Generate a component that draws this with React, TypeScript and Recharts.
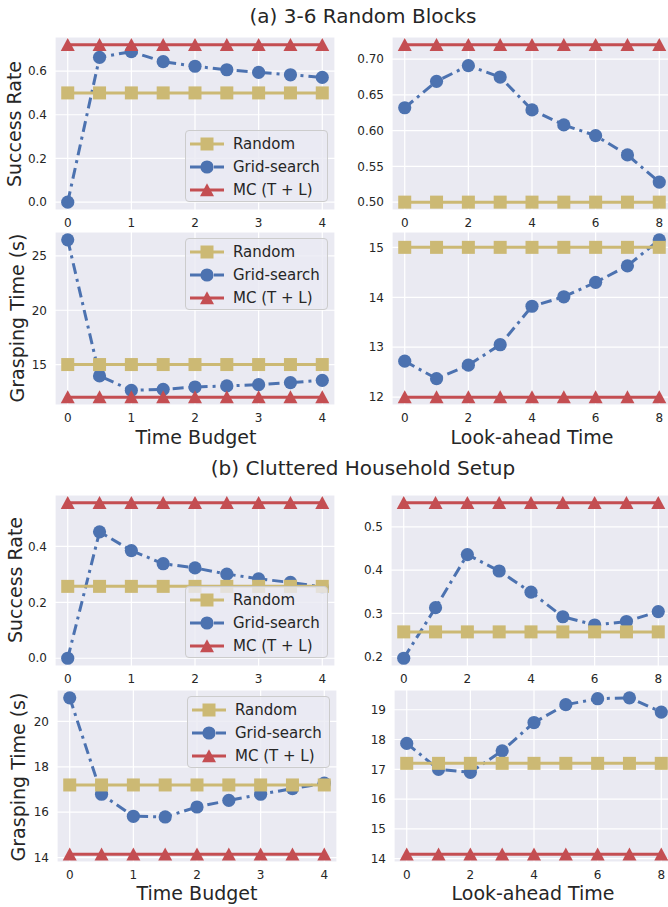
import { CartesianGrid, Line, LineChart, XAxis, YAxis } from 'recharts'

const FONT = '"DejaVu Sans", sans-serif'
const INK = '#262626'
const TAN = '#CCB974'
const BLUE = '#4C72B0'
const RED = '#C44E52'
const FACE = '#EAEAF2'

// x values
const timeBudget = [0, 0.5, 1, 1.5, 2, 2.5, 3, 3.5, 4]
const lookAhead = [0, 1, 2, 3, 4, 5, 6, 7, 8]
const budgetTicks = [0, 1, 2, 3, 4]
const lookTicks = [0, 2, 4, 6, 8]

// (a) 3-6 random blocks
const blocksRateRandom = [0.5, 0.5, 0.5, 0.5, 0.5, 0.5, 0.5, 0.5, 0.5]
const blocksRateGridBudget = [0, 0.663, 0.689, 0.643, 0.622, 0.606, 0.594, 0.583, 0.571]
const blocksRateGridLook = [0.632, 0.669, 0.691, 0.675, 0.629, 0.608, 0.593, 0.566, 0.528]
const blocksRateMc = [0.72, 0.72, 0.72, 0.72, 0.72, 0.72, 0.72, 0.72, 0.72]
const blocksTimeRandom = [15, 15, 15, 15, 15, 15, 15, 15, 15]
const blocksTimeGridBudget = [26.48, 13.95, 12.63, 12.72, 12.93, 13.03, 13.15, 13.34, 13.55]
const blocksTimeGridLook = [12.72, 12.37, 12.64, 13.05, 13.82, 14.01, 14.3, 14.63, 15.15]
const blocksTimeMc = [12, 12, 12, 12, 12, 12, 12, 12, 12]

// (b) cluttered household setup
const houseRateRandom = [0.257, 0.257, 0.257, 0.257, 0.257, 0.257, 0.257, 0.257, 0.257]
const houseRateGridBudget = [0, 0.452, 0.385, 0.338, 0.323, 0.301, 0.284, 0.271, 0.255]
const houseRateGridLook = [0.196, 0.313, 0.436, 0.398, 0.349, 0.292, 0.273, 0.281, 0.304]
const houseRateMc = [0.556, 0.556, 0.556, 0.556, 0.556, 0.556, 0.556, 0.556, 0.556]
const houseTimeRandom = [17.2, 17.2, 17.2, 17.2, 17.2, 17.2, 17.2, 17.2, 17.2]
const houseTimeGridBudget = [21.04, 16.79, 15.82, 15.79, 16.23, 16.52, 16.79, 17.04, 17.28]
const houseTimeGridLook = [17.87, 17.0, 16.9, 17.62, 18.57, 19.17, 19.37, 19.4, 18.92]
const houseTimeMc = [14.15, 14.15, 14.15, 14.15, 14.15, 14.15, 14.15, 14.15, 14.15]

const PLOT_W = 280
const Y_W = 50
const M_TOP = 10
const M_RIGHT = 6
const X_H = 30

// matplotlib-style 5% auto margins
function padded(values: number[]): [number, number] {
  const lo = Math.min(...values)
  const hi = Math.max(...values)
  const p = (hi - lo) * 0.05
  return [lo - p, hi + p]
}

const tickStyle = { fill: INK, fontSize: 12, fontFamily: FONT }

const squareDot = (p: any) => (
  <rect key={`s${p.index}`} x={p.cx - 6.5} y={p.cy - 6.5} width={13} height={13} fill={TAN} />
)
const circleDot = (p: any) => <circle key={`c${p.index}`} cx={p.cx} cy={p.cy} r={6.6} fill={BLUE} />
const triangleDot = (p: any) => (
  <polygon
    key={`t${p.index}`}
    points={`${p.cx},${p.cy - 6.8} ${p.cx - 7},${p.cy + 6.2} ${p.cx + 7},${p.cy + 6.2}`}
    fill={RED}
  />
)

type PanelProps = {
  left: number
  top: number
  height: number
  xs: number[]
  random: number[]
  grid: number[]
  mc: number[]
  xTicks: number[]
  yTicks: number[]
  digits: number
}

function Panel({ left, top, height, xs, random, grid, mc, xTicks, yTicks, digits }: PanelProps) {
  const rows = xs.map((x, i) => ({ x, random: random[i], grid: grid[i], mc: mc[i] }))
  return (
    <div style={{ position: 'absolute', left: left - Y_W, top: top - M_TOP }}>
      <LineChart
        width={PLOT_W + Y_W + M_RIGHT}
        height={height + M_TOP + X_H}
        data={rows}
        margin={{ top: M_TOP, right: M_RIGHT, bottom: 0, left: 0 }}
      >
        <CartesianGrid fill={FACE} fillOpacity={1} stroke="#ffffff" strokeWidth={1.2} />
        <XAxis
          type="number"
          dataKey="x"
          domain={padded(xs)}
          ticks={xTicks}
          interval={0}
          height={X_H}
          axisLine={false}
          tickLine={false}
          tick={tickStyle}
        />
        <YAxis
          type="number"
          domain={padded([...random, ...grid, ...mc])}
          ticks={yTicks}
          interval={0}
          width={Y_W}
          axisLine={false}
          tickLine={false}
          tick={tickStyle}
          tickFormatter={(v: number) => v.toFixed(digits)}
        />
        <Line
          type="linear"
          dataKey="grid"
          stroke={BLUE}
          strokeWidth={3}
          strokeDasharray="11 5 3 5"
          dot={circleDot}
          activeDot={false}
          isAnimationActive={false}
        />
        <Line
          type="linear"
          dataKey="random"
          stroke={TAN}
          strokeWidth={3}
          dot={squareDot}
          activeDot={false}
          isAnimationActive={false}
        />
        <Line
          type="linear"
          dataKey="mc"
          stroke={RED}
          strokeWidth={3}
          dot={triangleDot}
          activeDot={false}
          isAnimationActive={false}
        />
      </LineChart>
    </div>
  )
}

const legendItems = [
  { label: 'Random', color: TAN, shape: 'square', dash: undefined },
  { label: 'Grid-search', color: BLUE, shape: 'circle', dash: '11 5 3 5' },
  { label: 'MC (T + L)', color: RED, shape: 'triangle', dash: undefined },
]

function Legend({ left, top }: { left: number; top: number }) {
  return (
    <div
      style={{
        position: 'absolute',
        left,
        top,
        width: 143,
        height: 72,
        boxSizing: 'border-box',
        border: '1px solid #cccccc',
        borderRadius: 4,
        background: 'rgba(234,234,242,0.8)',
      }}
    >
      {legendItems.map((it, i) => (
        <div key={it.label} style={{ position: 'absolute', left: 0, top: 2 + i * 22.8, height: 22, width: 143 }}>
          <svg width={40} height={22} style={{ position: 'absolute', left: 3, top: 0 }}>
            <line x1={1} y1={11} x2={35} y2={11} stroke={it.color} strokeWidth={3} strokeDasharray={it.dash} />
            {it.shape === 'square' && <rect x={11.5} y={4.5} width={13} height={13} fill={it.color} />}
            {it.shape === 'circle' && <circle cx={18} cy={11} r={6.6} fill={it.color} />}
            {it.shape === 'triangle' && <polygon points="18,4.2 11,17.2 25,17.2" fill={it.color} />}
          </svg>
          <span
            style={{
              position: 'absolute',
              left: 47,
              top: 0,
              lineHeight: '22px',
              fontSize: 15,
              color: INK,
              whiteSpace: 'nowrap',
            }}
          >
            {it.label}
          </span>
        </div>
      ))}
    </div>
  )
}

function Text({ x, y, size, text, rotate }: { x: number; y: number; size: number; text: string; rotate?: boolean }) {
  return (
    <div
      style={{
        position: 'absolute',
        left: x,
        top: y,
        transform: `translate(-50%, -50%)${rotate ? ' rotate(-90deg)' : ''}`,
        fontSize: size,
        color: INK,
        whiteSpace: 'nowrap',
        lineHeight: 1,
      }}
    >
      {text}
    </div>
  )
}

export default function App() {
  return (
    <div
      style={{
        position: 'relative',
        width: 668,
        height: 907,
        overflow: 'hidden',
        background: '#ffffff',
        fontFamily: FONT,
      }}
    >
      <style>{'body{margin:0}'}</style>
      <Text x={363} y={16} size={20} text="(a) 3-6 Random Blocks" />
      <Text x={363} y={468} size={20} text="(b) Cluttered Household Setup" />

      <Panel left={55} top={37} height={173} xs={timeBudget} random={blocksRateRandom} grid={blocksRateGridBudget} mc={blocksRateMc} xTicks={budgetTicks} yTicks={[0, 0.2, 0.4, 0.6]} digits={1} />
      <Panel left={392} top={37} height={173} xs={lookAhead} random={blocksRateRandom} grid={blocksRateGridLook} mc={blocksRateMc} xTicks={lookTicks} yTicks={[0.5, 0.55, 0.6, 0.65, 0.7]} digits={2} />
      <Panel left={55} top={232} height={173} xs={timeBudget} random={blocksTimeRandom} grid={blocksTimeGridBudget} mc={blocksTimeMc} xTicks={budgetTicks} yTicks={[15, 20, 25]} digits={0} />
      <Panel left={392} top={232} height={173} xs={lookAhead} random={blocksTimeRandom} grid={blocksTimeGridLook} mc={blocksTimeMc} xTicks={lookTicks} yTicks={[12, 13, 14, 15]} digits={0} />

      <Panel left={55} top={495} height={171} xs={timeBudget} random={houseRateRandom} grid={houseRateGridBudget} mc={houseRateMc} xTicks={budgetTicks} yTicks={[0, 0.2, 0.4]} digits={1} />
      <Panel left={391} top={495} height={171} xs={lookAhead} random={houseRateRandom} grid={houseRateGridLook} mc={houseRateMc} xTicks={lookTicks} yTicks={[0.2, 0.3, 0.4, 0.5]} digits={1} />
      <Panel left={57} top={690} height={172} xs={timeBudget} random={houseTimeRandom} grid={houseTimeGridBudget} mc={houseTimeMc} xTicks={budgetTicks} yTicks={[14, 16, 18, 20]} digits={0} />
      <Panel left={394} top={690} height={172} xs={lookAhead} random={houseTimeRandom} grid={houseTimeGridLook} mc={houseTimeMc} xTicks={lookTicks} yTicks={[14, 15, 16, 17, 18, 19]} digits={0} />

      <Legend left={185} top={130} />
      <Legend left={185} top={238} />
      <Legend left={185} top={586} />
      <Legend left={187} top={696} />

      <Text x={14} y={124} size={19} text="Success Rate" rotate />
      <Text x={17} y={318} size={19} text="Grasping Time (s)" rotate />
      <Text x={15} y={580} size={19} text="Success Rate" rotate />
      <Text x={18} y={777} size={19} text="Grasping Time (s)" rotate />

      <Text x={196} y={437} size={19} text="Time Budget" />
      <Text x={532} y={437} size={19} text="Look-ahead Time" />
      <Text x={197} y={893} size={19} text="Time Budget" />
      <Text x={533} y={893} size={19} text="Look-ahead Time" />
    </div>
  )
}
